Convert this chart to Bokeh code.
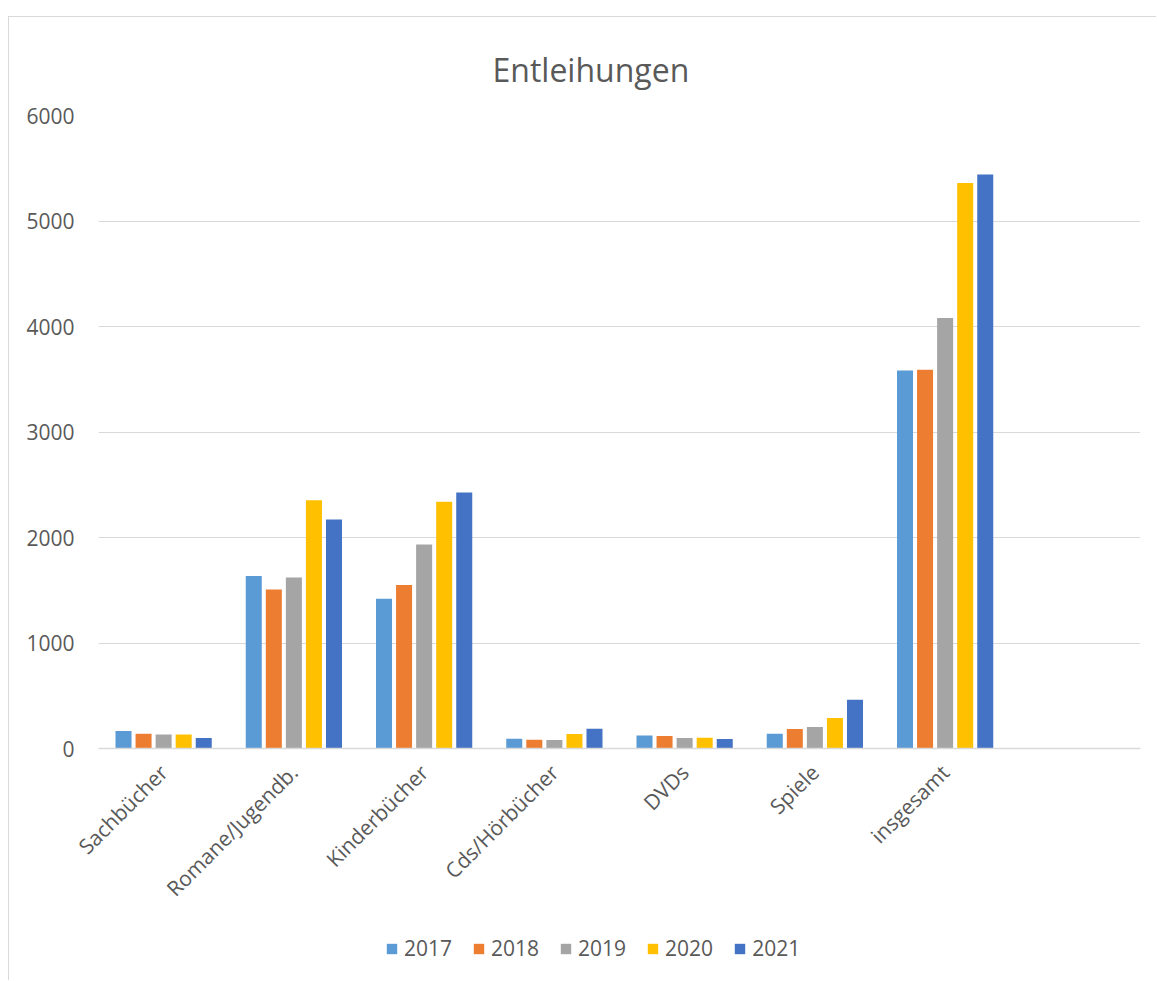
import math
from bokeh.plotting import figure
from bokeh.layouts import column
from bokeh.models import ColumnDataSource, FactorRange, FixedTicker, Legend, LegendItem, Range1d
from bokeh.transform import dodge
from bokeh.embed import file_html
from bokeh.resources import INLINE

categories = ["Sachbücher", "Romane/Jugendb.", "Kinderbücher", "Cds/Hörbücher", "DVDs", "Spiele", "insgesamt"]
axis_factors = categories + [" "]
years = ["2017", "2018", "2019", "2020", "2021"]
v2017 = [165, 1636, 1420, 92, 123, 139, 3583]
v2018 = [139, 1506, 1550, 83, 118, 184, 3590]
v2019 = [133, 1622, 1933, 80, 99, 203, 4080]
v2020 = [133, 2353, 2338, 137, 101, 288, 5361]
v2021 = [99, 2170, 2426, 187, 89, 462, 5440]
y_ticks = [0, 1000, 2000, 3000, 4000, 5000, 6000]
colors = ["#5B9BD5", "#ED7D31", "#A5A5A5", "#FFC000", "#4472C4"]

FONT = "Open Sans"
TXT = "#595959"

source = ColumnDataSource(data=dict(cat=categories, y2017=v2017, y2018=v2018,
                                    y2019=v2019, y2020=v2020, y2021=v2021))

p = figure(x_range=FactorRange(factors=axis_factors, range_padding=0),
           y_range=Range1d(0, 6000),
           frame_width=1042, frame_height=633, output_backend="svg", toolbar_location=None,
           min_border_left=89, min_border_right=16, min_border_top=98, min_border_bottom=180)
p.x_range.factor_padding = 0

p.title.text = "Entleihungen"
p.title.align = "left"
p.title.offset = 394
p.title.text_font = FONT
p.title.text_font_size = "32px"
p.title.text_font_style = "normal"
p.title.text_color = TXT
p.title.standoff = 49

offsets = [-0.308, -0.154, 0.0, 0.154, 0.308]
for yr, off, col in zip(years, offsets, colors):
    p.vbar(x=dodge("cat", off, range=p.x_range), top="y" + yr, width=0.123,
           source=source, fill_color=col, line_color=None)

p.outline_line_color = None
p.background_fill_color = "white"
p.border_fill_color = "white"

p.xgrid.grid_line_color = None
p.ygrid.grid_line_color = "#d9d9d9"
p.ygrid.grid_line_width = 1

p.yaxis.ticker = FixedTicker(ticks=y_ticks)
p.yaxis.axis_line_color = None
p.yaxis.major_tick_line_color = None
p.yaxis.minor_tick_line_color = None
p.yaxis.major_label_text_font = FONT
p.yaxis.major_label_text_font_size = "21px"
p.yaxis.major_label_text_color = TXT
p.yaxis.major_label_standoff = 18

p.xaxis.axis_line_color = "#d9d9d9"
p.xaxis.axis_line_width = 1.5
p.xaxis.major_tick_line_color = None
p.xaxis.minor_tick_line_color = None
p.xaxis.major_label_orientation = math.pi / 4
p.xaxis.major_label_text_font = FONT
p.xaxis.major_label_text_font_size = "21px"
p.xaxis.major_label_text_color = TXT
p.xaxis.major_label_standoff = 14

# legend strip below the chart (zero-width copies of the series, so only the key shows)
pl = figure(x_range=FactorRange(factors=axis_factors, range_padding=0),
            y_range=Range1d(-100000, -90000), width=1147, height=52,
            output_backend="svg", toolbar_location=None,
            x_axis_location=None, y_axis_location=None,
            min_border_left=0, min_border_right=0, min_border_top=0, min_border_bottom=0)
pl.outline_line_color = None
pl.grid.visible = False
pl.border_fill_color = "white"
leg_renderers = []
for yr, off, col in zip(years, offsets, colors):
    r = pl.vbar(x=dodge("cat", off, range=pl.x_range), top="y" + yr, width=0,
                source=source, fill_color=col, line_color=None)
    leg_renderers.append(r)

legend = Legend(items=[LegendItem(label=yr, renderers=[r]) for yr, r in zip(years, leg_renderers)],
                orientation="horizontal", location=(287, 18),
                glyph_width=13, glyph_height=13, label_standoff=6, spacing=20,
                padding=0, margin=0, border_line_color=None, background_fill_alpha=0,
                label_text_font=FONT, label_text_font_size="21px", label_text_color=TXT)
pl.add_layout(legend, "center")

layout = column(p, pl, spacing=0)
layout.styles = {"border-left": "1px solid #d9d9d9", "border-top": "1px solid #d9d9d9",
                 "margin-top": "16px", "margin-left": "8px"}

open("out.html", "w").write(file_html(layout, INLINE))
